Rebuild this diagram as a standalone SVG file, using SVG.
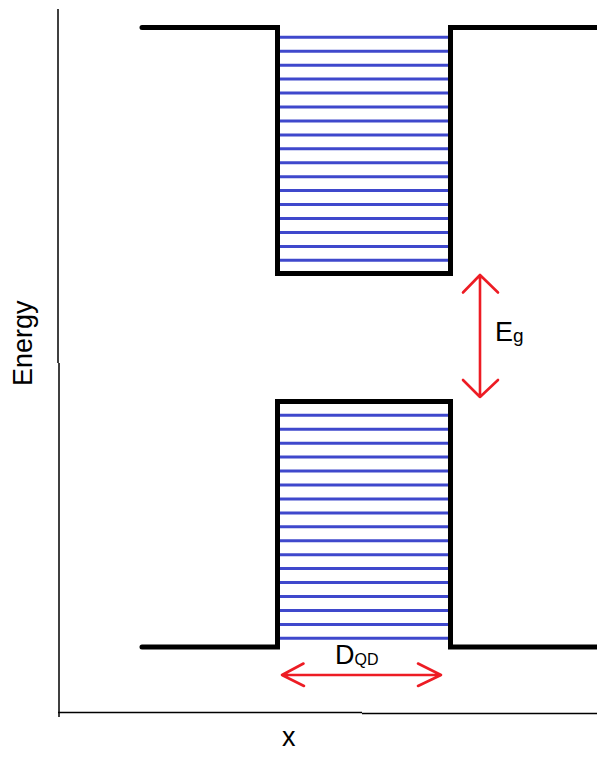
<svg xmlns="http://www.w3.org/2000/svg" width="597" height="761" viewBox="0 0 597 761">
<style>
.axis{stroke:#000;stroke-width:1.5;fill:none}
.well{stroke:#000;stroke-width:5;fill:none;stroke-linejoin:miter;stroke-linecap:round}
.lvl{stroke:#3F48CC;stroke-width:3}
.red{stroke:#ED1C24;stroke-width:2.6;fill:none;stroke-linecap:round;stroke-linejoin:round}
text{font-family:"Liberation Sans",Arial,sans-serif;fill:#000}
</style>
<rect width="597" height="761" fill="#fff"/>
<g id="axes">
<line class="axis" x1="58" y1="9" x2="58" y2="363"/>
<line class="axis" x1="59" y1="363" x2="59" y2="717"/>
<line class="axis" x1="58" y1="712.5" x2="362" y2="712.5"/>
<line class="axis" x1="362" y1="713.5" x2="597" y2="713.5"/>
<text x="32" y="386" font-size="27" transform="rotate(-90 32 386)">Energy</text>
<text x="282" y="746" font-size="27">x</text>
</g>
<g id="conduction-band">
<g id="cb-levels">
<line class="lvl" x1="280" y1="37.3" x2="449" y2="37.3"/>
<line class="lvl" x1="280" y1="51.2" x2="449" y2="51.2"/>
<line class="lvl" x1="280" y1="65.2" x2="449" y2="65.2"/>
<line class="lvl" x1="280" y1="79.1" x2="449" y2="79.1"/>
<line class="lvl" x1="280" y1="93.1" x2="449" y2="93.1"/>
<line class="lvl" x1="280" y1="107" x2="449" y2="107"/>
<line class="lvl" x1="280" y1="120.9" x2="449" y2="120.9"/>
<line class="lvl" x1="280" y1="134.9" x2="449" y2="134.9"/>
<line class="lvl" x1="280" y1="148.8" x2="449" y2="148.8"/>
<line class="lvl" x1="280" y1="162.8" x2="449" y2="162.8"/>
<line class="lvl" x1="280" y1="176.7" x2="449" y2="176.7"/>
<line class="lvl" x1="280" y1="190.6" x2="449" y2="190.6"/>
<line class="lvl" x1="280" y1="204.6" x2="449" y2="204.6"/>
<line class="lvl" x1="280" y1="218.5" x2="449" y2="218.5"/>
<line class="lvl" x1="280" y1="232.5" x2="449" y2="232.5"/>
<line class="lvl" x1="280" y1="246.4" x2="449" y2="246.4"/>
<line class="lvl" x1="280" y1="260.3" x2="449" y2="260.3"/>
</g>
<path class="well" d="M142,27.5 H277.5 V273.5 H450.5 V27.5 H599"/>
</g>
<g id="valence-band">
<g id="vb-levels">
<line class="lvl" x1="280" y1="415.3" x2="449" y2="415.3"/>
<line class="lvl" x1="280" y1="429.2" x2="449" y2="429.2"/>
<line class="lvl" x1="280" y1="443.2" x2="449" y2="443.2"/>
<line class="lvl" x1="280" y1="457.1" x2="449" y2="457.1"/>
<line class="lvl" x1="280" y1="471.1" x2="449" y2="471.1"/>
<line class="lvl" x1="280" y1="485" x2="449" y2="485"/>
<line class="lvl" x1="280" y1="498.9" x2="449" y2="498.9"/>
<line class="lvl" x1="280" y1="512.9" x2="449" y2="512.9"/>
<line class="lvl" x1="280" y1="526.8" x2="449" y2="526.8"/>
<line class="lvl" x1="280" y1="540.8" x2="449" y2="540.8"/>
<line class="lvl" x1="280" y1="554.7" x2="449" y2="554.7"/>
<line class="lvl" x1="280" y1="568.6" x2="449" y2="568.6"/>
<line class="lvl" x1="280" y1="582.6" x2="449" y2="582.6"/>
<line class="lvl" x1="280" y1="596.5" x2="449" y2="596.5"/>
<line class="lvl" x1="280" y1="610.5" x2="449" y2="610.5"/>
<line class="lvl" x1="280" y1="624.4" x2="449" y2="624.4"/>
<line class="lvl" x1="280" y1="638.3" x2="449" y2="638.3"/>
</g>
<path class="well" d="M142,647 H277.5 V401.5 H450.5 V647 H599"/>
</g>
<g id="connectors">
<g id="eg-arrow">
<path class="red" d="M480,275 V397 M463,292.5 L480,275 L498,292.5 M463,380 L480,397 L498,380"/>
</g>
<g id="dqd-arrow">
<path class="red" d="M282,675 H441 M303.5,663.5 L282,675 L304,686 M418,663.5 L441,675 L418,686"/>
</g>
</g>
<g id="labels">
<text x="495" y="341" font-size="27">E<tspan font-size="19" dy="1">g</tspan></text>
<text x="335" y="664" font-size="27">D<tspan font-size="16" dy="1">QD</tspan></text>
</g>
</svg>
